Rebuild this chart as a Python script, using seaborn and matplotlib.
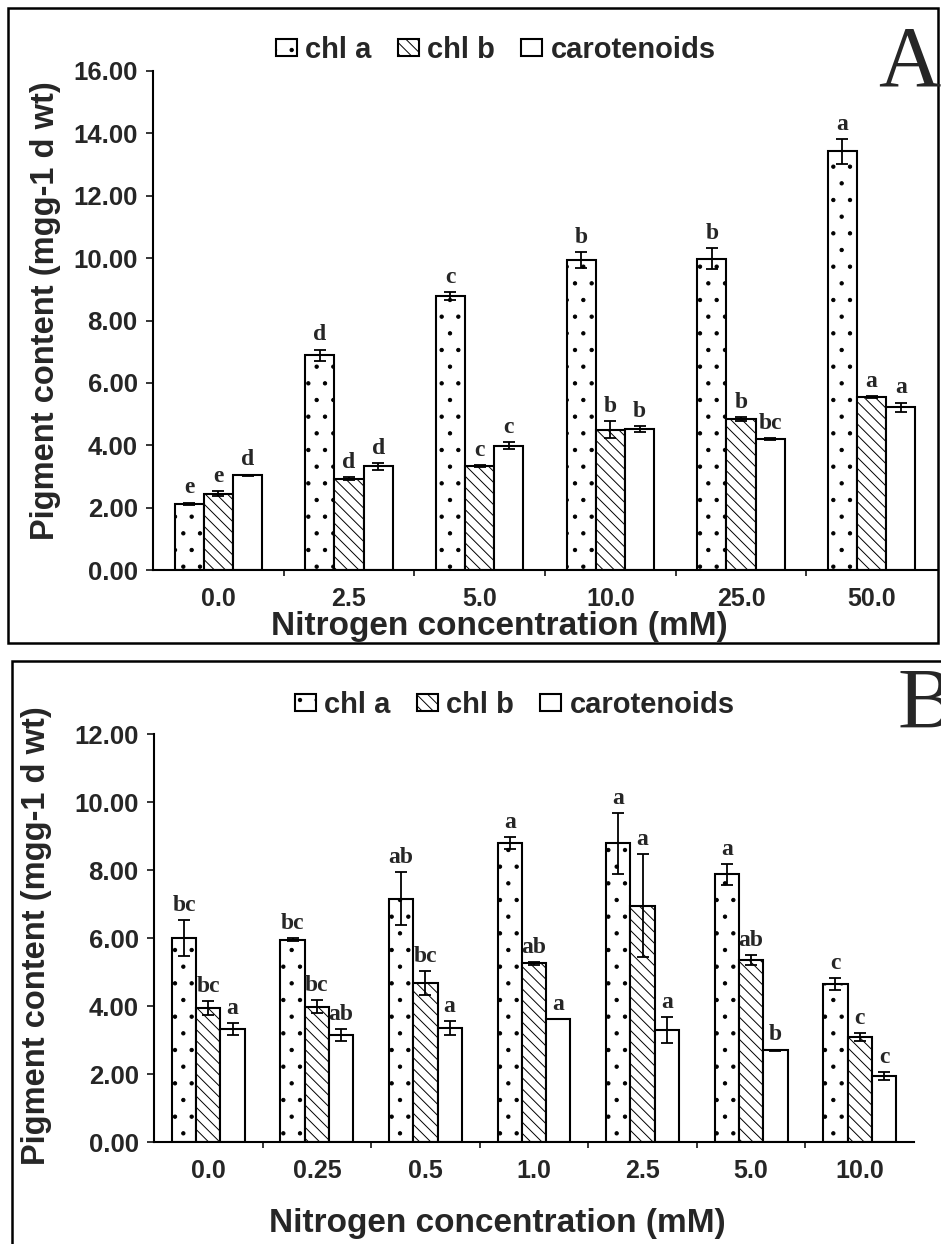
import numpy as np
import pandas as pd
import matplotlib
matplotlib.use("Agg")
import matplotlib.pyplot as plt
import seaborn as sns
from matplotlib.patches import Rectangle
from matplotlib.ticker import FormatStrFormatter

sns.set_style("white")
plt.rcParams['font.family'] = ['Liberation Sans', 'DejaVu Sans']
plt.rcParams['hatch.linewidth'] = 0.7

pigments = ["chl a", "chl b", "carotenoids"]

# panel A
conc_a = ["0.0", "2.5", "5.0", "10.0", "25.0", "50.0"]
chla_a = [2.12, 6.89, 8.78, 9.93, 9.98, 13.42]
chlb_a = [2.44, 2.93, 3.33, 4.50, 4.84, 5.55]
car_a = [3.04, 3.32, 3.98, 4.52, 4.20, 5.22]
chla_a_err = [0.04, 0.18, 0.13, 0.26, 0.33, 0.40]
chlb_a_err = [0.08, 0.04, 0.03, 0.27, 0.05, 0.03]
car_a_err = [0.02, 0.12, 0.11, 0.09, 0.03, 0.15]
chla_a_sig = ["e", "d", "c", "b", "b", "a"]
chlb_a_sig = ["e", "d", "c", "b", "b", "a"]
car_a_sig = ["d", "d", "c", "b", "bc", "a"]

# panel B
conc_b = ["0.0", "0.25", "0.5", "1.0", "2.5", "5.0", "10.0"]
chla_b = [6.00, 5.95, 7.15, 8.80, 8.78, 7.87, 4.65]
chlb_b = [3.95, 3.98, 4.67, 5.26, 6.95, 5.35, 3.08]
car_b = [3.32, 3.15, 3.35, 3.61, 3.30, 2.70, 1.94]
chla_b_err = [0.53, 0.04, 0.78, 0.18, 0.90, 0.30, 0.17]
chlb_b_err = [0.20, 0.19, 0.35, 0.04, 1.52, 0.14, 0.12]
car_b_err = [0.18, 0.17, 0.20, 0.00, 0.38, 0.02, 0.12]
chla_b_sig = ["bc", "bc", "ab", "a", "a", "a", "c"]
chlb_b_sig = ["bc", "bc", "bc", "ab", "a", "ab", "c"]
car_b_sig = ["a", "ab", "a", "a", "a", "b", "c"]

hatches = [".", "\\\\\\", ""]
W, H = 941, 1244


def fx(x):
    return x / W


def fy(y):
    return 1 - y / H


def draw_panel(ax, conc, vals, errs, sigs, ymax):
    df = pd.concat([pd.DataFrame({"conc": conc, "pigment": p, "value": v})
                    for p, v in zip(pigments, vals)])
    sns.barplot(data=df, x="conc", y="value", hue="pigment", order=conc,
                hue_order=pigments, palette={p: "white" for p in pigments},
                edgecolor="black", linewidth=1.5, width=0.67, errorbar=None,
                ax=ax)
    ax.get_legend().remove()
    bars = list(ax.containers)
    for i, cont in enumerate(bars):
        for bar, e, s in zip(cont, errs[i], sigs[i]):
            bar.set_hatch(hatches[i])
            x = bar.get_x() + bar.get_width() / 2
            h = bar.get_height()
            ax.errorbar(x, h, yerr=e, fmt="none", ecolor="black", capsize=4.5,
                        elinewidth=1.3, capthick=1.3)
            ax.annotate(s, (x, h + e), xytext=(0, 3), textcoords="offset points",
                        ha="center", va="bottom", fontsize=17, fontweight="bold",
                        family="Liberation Serif")
    n = len(conc)
    ax.set_xlim(-0.5, n - 0.5)
    ax.set_ylim(0, ymax)
    ax.set_yticks(np.arange(0, ymax + 0.01, 2))
    ax.yaxis.set_major_formatter(FormatStrFormatter("%.2f"))
    ax.set_xticks(range(n))
    ax.set_xticks(np.arange(0.5, n - 1, 1), minor=True)
    ax.tick_params(axis="x", which="major", length=0, pad=12, labelsize=18)
    ax.tick_params(axis="x", which="minor", length=4, width=1.3, direction="out",
                   bottom=True)
    ax.tick_params(axis="y", length=5, width=1.3, direction="out", left=True,
                   pad=6, labelsize=18.5)
    for lab in ax.get_xticklabels() + ax.get_yticklabels():
        lab.set_fontweight("bold")
    ax.set_xlabel("")
    ax.set_ylabel("")
    for sp in ["top", "right"]:
        ax.spines[sp].set_visible(False)
    for sp in ["left", "bottom"]:
        ax.spines[sp].set_linewidth(1.5)
        ax.spines[sp].set_color("black")
    return bars


fig = plt.figure(figsize=(9.41, 12.44), dpi=100)

axA = fig.add_axes([fx(153), fy(570), fx(937) - fx(153), fy(71) - fy(570)])
barsA = draw_panel(axA, conc_a, [chla_a, chlb_a, car_a],
                   [chla_a_err, chlb_a_err, car_a_err],
                   [chla_a_sig, chlb_a_sig, car_a_sig], 16)

axB = fig.add_axes([fx(154), fy(1142), fx(914) - fx(154), fy(734) - fy(1142)])
barsB = draw_panel(axB, conc_b, [chla_b, chlb_b, car_b],
                   [chla_b_err, chlb_b_err, car_b_err],
                   [chla_b_sig, chlb_b_sig, car_b_sig], 12)

# axis titles
ylab = "Pigment content (mgg-1 d wt)"
xlab = "Nitrogen concentration (mM)"
fig.text(fx(46), fy(311), ylab, rotation=90, ha="center", va="center",
         fontsize=23.5, fontweight="bold")
fig.text(fx(37), fy(936), ylab, rotation=90, ha="center", va="center",
         fontsize=23.5, fontweight="bold")
fig.text(fx(499), fy(635), xlab, ha="center", va="baseline",
         fontsize=24, fontweight="bold")
fig.text(fx(497), fy(1232), xlab, ha="center", va="baseline",
         fontsize=24, fontweight="bold")

# legends
for ax, bars, (cx, cy) in [(axA, barsA, (496, 50)), (axB, barsB, (515, 705))]:
    ax.legend(bars, pigments, loc="center", ncol=3,
              bbox_to_anchor=(fx(cx), fy(cy)), bbox_transform=fig.transFigure,
              frameon=False, handlelength=0.7, handleheight=0.55,
              handletextpad=0.3, columnspacing=0.9,
              prop={"size": 21, "weight": "bold"})

# panel letters
fig.text(fx(940), fy(86), "A", ha="right", va="baseline", fontsize=62,
         family="Liberation Serif")
fig.text(fx(897), fy(728), "B", ha="left", va="baseline", fontsize=62,
         family="Liberation Serif")

# panel frames
fig.add_artist(Rectangle((fx(8), fy(643)), fx(938) - fx(8), fy(8) - fy(643),
                         transform=fig.transFigure, fill=False, lw=1.8,
                         ec="black"))
fig.add_artist(Rectangle((fx(12), fy(1250)), fx(950) - fx(12), fy(661) - fy(1250),
                         transform=fig.transFigure, fill=False, lw=1.8,
                         ec="black"))

fig.savefig("out.png", dpi=100)
